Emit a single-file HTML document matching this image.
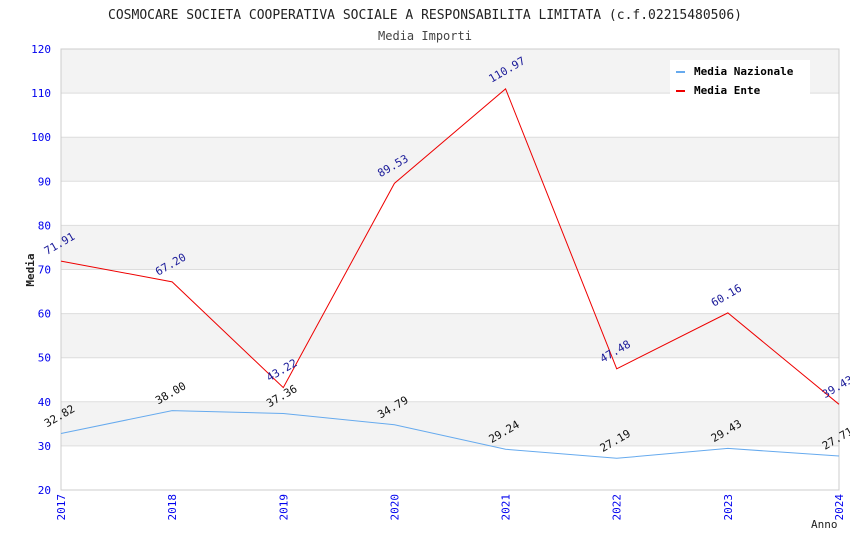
<!DOCTYPE html>
<html><head><meta charset="utf-8"><style>
body{margin:0;background:#fff}
svg text{font-family:"DejaVu Sans Mono","Liberation Mono",monospace}
</style></head><body>
<svg id="chart" width="850" height="550">
<text x="425" y="19" text-anchor="middle" font-size="13" fill="#222">COSMOCARE SOCIETA COOPERATIVA SOCIALE A RESPONSABILITA LIMITATA (c.f.02215480506)</text>
<text x="425" y="40" text-anchor="middle" font-size="12" fill="#444">Media Importi</text>
<g id="bands"></g><g id="yaxis"></g><g id="xaxis"></g><g id="series"></g>
<text x="34" y="270" transform="rotate(-90 34 270)" text-anchor="middle" font-size="11" font-weight="bold" fill="#222">Media</text>
<text x="811" y="528" font-size="11" fill="#222">Anno</text>
<g>
<rect x="670" y="60" width="140" height="36" fill="#fff"/>
<rect x="676" y="71" width="9" height="2" fill="#66aaee"/>
<text x="694" y="75" font-size="11" font-weight="bold" fill="#000">Media Nazionale</text>
<rect x="676" y="90" width="9" height="2" fill="#ee0000"/>
<text x="694" y="94" font-size="11" font-weight="bold" fill="#000">Media Ente</text>
</g>
</svg>
<script>
const years=["2017","2018","2019","2020","2021","2022","2023","2024"];
const nazionale=[32.82,38.00,37.36,34.79,29.24,27.19,29.43,27.71];
const ente=[71.91,67.20,43.22,89.53,110.97,47.48,60.16,39.43];
const yTicks=[20,30,40,50,60,70,80,90,100,110,120];
const NS="http://www.w3.org/2000/svg";
const X0=61,X1=839,Y0=490,Y1=49,YMIN=20,YMAX=120;
const xs=i=>X0+(X1-X0)*i/(years.length-1);
const ys=v=>Y0-(v-YMIN)/(YMAX-YMIN)*(Y0-Y1);
function mk(tag,attrs,parent,txt){const e=document.createElementNS(NS,tag);for(const k in attrs)e.setAttribute(k,attrs[k]);if(txt!=null)e.textContent=txt;parent.appendChild(e);return e;}
const bands=document.getElementById('bands'),ya=document.getElementById('yaxis'),xa=document.getElementById('xaxis'),se=document.getElementById('series');
for(let i=0;i<yTicks.length-1;i++){
 const a=yTicks[i],b=yTicks[i+1];
 const r=mk('rect',{x:X0,y:ys(b),width:X1-X0,height:ys(a)-ys(b),fill:(i%2==1)?'#f3f3f3':'#fff'},bands);
 
 
}
yTicks.forEach(t=>{
 const l=mk('line',{x1:X0,x2:X1,y1:ys(t),y2:ys(t),stroke:'#ddd'},ya);
 
 
 const tx=mk('text',{x:X0-10,y:ys(t)+4,'text-anchor':'end','font-size':11,fill:'#0000ee'},ya,t);
 
 
});
const bx=mk('rect',{x:X0,y:Y1,width:X1-X0,height:Y0-Y1,fill:'none',stroke:'#ccc'},ya);


years.forEach((y,i)=>{
 const x=xs(i);
 const t=mk('text',{x:x+4,y:494,transform:`rotate(-90 ${x+4} 494)`,'text-anchor':'end','font-size':11,fill:'#0000ee'},xa,y);
 
 
});
function drawSeries(vals,color,lblColor,name){
 const p=mk('polyline',{points:vals.map((v,i)=>xs(i)+','+ys(v)).join(' '),fill:'none',stroke:color,'stroke-width':1},se);
 
 
 vals.forEach((v,i)=>{
  const x=xs(i)-14,y=ys(v)-6;
  const t=mk('text',{x:x,y:y,transform:`rotate(-30 ${x} ${y})`,'font-size':11,fill:lblColor},se,v.toFixed(2));
  
  
 });
}
drawSeries(nazionale,'#66aaee','#111','nazionale');
drawSeries(ente,'#ee0000','#1a1a99','ente');
</script>
</body></html>
